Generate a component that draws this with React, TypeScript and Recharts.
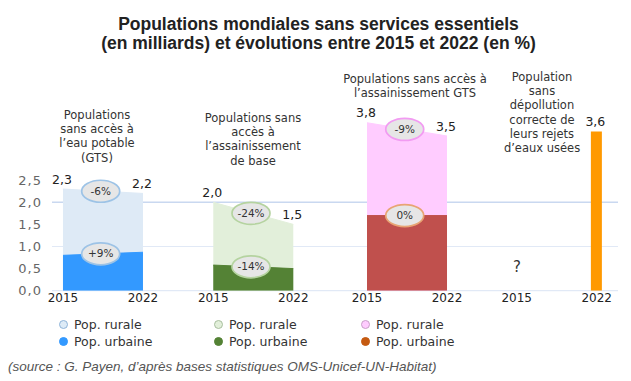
import React from 'react';
import { ComposedChart, Area, Bar, Scatter, XAxis, YAxis, CartesianGrid, LabelList } from 'recharts';

// ---- Data ----
const years = ['2015', '2022'];
const panelTitles = [
  ['Populations', 'sans accès à', 'l\u2019eau potable', '(GTS)'],
  ['Populations sans', 'accès à', 'l\u2019assainissement', 'de base'],
  ['Populations sans accès à', 'l\u2019assainissement GTS'],
  ['Population', 'sans', 'dépollution', 'correcte de', 'leurs rejets', 'd\u2019eaux usées'],
];
const waterUrban = [0.8, 0.87];
const waterTotal = [2.3, 2.2];
const sanitUrban = [0.58, 0.5];
const sanitTotal = [2.0, 1.5];
const gtsUrban = [1.7, 1.7];
const gtsTotal = [3.8, 3.5];
const wastewaterTotal: (number | null)[] = [null, 3.6];
const changeRural = ['-6%', '-24%', '-9%'];
const changeUrban = ['+9%', '-14%', '0%'];
const legendLabels = ['Pop. rurale', 'Pop. urbaine'];
const yTicks = [0, 0.5, 1, 1.5, 2, 2.5];
const sourceText = '(source : G. Payen, d\u2019après bases statistiques OMS-Unicef-UN-Habitat)';

// ---- Layout / styles ----
const panelOffsets = [0, 13.15, 26.6, 39.7];
const badgeShift = 3.3;
const ruralColors = ['#deeaf6', '#e2efda', '#ffccff'];
const urbanColors = ['#3399ff', '#548235', '#c0504d'];
const wasteColor = '#ff9900';
const ruralBadgeStroke = ['#9dc3e6', '#b5d3a0', '#f29bf2'];
const urbanBadgeStroke = ['#9dc3e6', '#b5d3a0', '#e8a474'];
const legendRuralFill = ['#ddebf7', '#e2efda', '#ffccff'];
const legendRuralStroke = ['#8fb4d9', '#a9bf9f', '#c9a0c9'];
const legendUrbanFill = ['#3399ff', '#548235', '#c55a11'];
const legendX = [64, 219, 366];
const titleCenters = [97, 253, 415, 542];
const titleTops = [108, 111, 72, 70];
const FONT = '"DejaVu Sans", Verdana, sans-serif';

const panels = [
  { urban: waterUrban, total: waterTotal },
  { urban: sanitUrban, total: sanitTotal },
  { urban: gtsUrban, total: gtsTotal },
  { urban: null as number[] | null, total: wastewaterTotal },
];

const baseYear = Number(years[0]);
const rows: any[] = [];
const tickYear: Record<string, string> = {};
panels.forEach((p, k) => {
  years.forEach((y, j) => {
    const x = +(panelOffsets[k] + (Number(y) - baseYear)).toFixed(3);
    const row: any = { x };
    row[`t${k}`] = p.total[j];
    if (p.urban) row[`u${k}`] = p.urban[j];
    rows.push(row);
    tickYear[String(x)] = y;
  });
});
const xTicks = rows.map((r) => r.x);

const badges: any[] = [];
[0, 1, 2].forEach((k) => {
  const p = panels[k];
  const mean = (a: any[]) => (a[0] + a[1]) / 2;
  badges.push({ x: panelOffsets[k] + badgeShift, y: mean(p.total as number[]), label: changeRural[k], stroke: ruralBadgeStroke[k] });
  badges.push({ x: panelOffsets[k] + badgeShift, y: mean(p.urban as number[]), label: changeUrban[k], stroke: urbanBadgeStroke[k] });
});

const fmt = (v: number) => v.toFixed(1).replace('.', ',');

const ValueLabel = (props: any) => {
  const { x, y, value, width } = props;
  if (value == null || x == null || y == null) return null;
  const cx = x + (width ? width / 2 : 0) - 1;
  return (
    <text x={cx} y={y - 9} textAnchor="middle" dominantBaseline="middle" fontFamily={FONT} fontSize={12.5} fill="#222">
      {fmt(Number(value))}
    </text>
  );
};

const Badge = (props: any) => {
  const { cx, cy, payload } = props;
  if (cx == null || cy == null) return null;
  return (
    <g>
      <ellipse cx={cx} cy={cy} rx={19} ry={11} fill="#e6e6e6" stroke={payload.stroke} strokeWidth={1.7} />
      <text x={cx} y={cy + 0.5} textAnchor="middle" dominantBaseline="middle" fontFamily={FONT} fontSize={10.5} fill="#333">
        {payload.label}
      </text>
    </g>
  );
};

export default function App() {
  return (
    <div style={{ position: 'absolute', left: 0, top: 0, width: 631, height: 381, background: '#fff', overflow: 'hidden' }}>
      <div
        style={{
          position: 'absolute', left: 3, top: 15, width: 631, textAlign: 'center',
          fontFamily: '"Liberation Sans", Arial, sans-serif', fontWeight: 'bold', fontSize: 17.5, lineHeight: '18.5px', color: '#222',
        }}
      >
        <div>Populations mondiales sans services essentiels</div>
        <div>(en milliards) et évolutions entre 2015 et 2022 (en %)</div>
      </div>
      <ComposedChart
        width={631}
        height={381}
        data={rows}
        margin={{ top: 113.9, right: 13, bottom: 60.3, left: 0 }}
        style={{ position: 'absolute', left: 0, top: 0 }}
      >
        <CartesianGrid vertical={false} horizontalValues={[0, 1]} stroke="#e1e9f6" strokeWidth={1.2} />
        <CartesianGrid vertical={false} horizontalValues={[2]} stroke="#c9d8f0" strokeWidth={1.4} />
        <XAxis
          dataKey="x"
          type="number"
          domain={[-0.96, 48.56]}
          ticks={xTicks}
          allowDataOverflow
          axisLine={false}
          tickLine={false}
          tickSize={0}
          tickMargin={3}
          height={30}
          interval={0}
          tickFormatter={(v: number) => tickYear[String(v)] ?? ''}
          tick={{ fontFamily: FONT, fontSize: 12, fill: '#222' }}
        />
        <YAxis
          type="number"
          domain={[0, 4]}
          ticks={yTicks}
          allowDataOverflow
          axisLine={false}
          tickLine={false}
          tickSize={0}
          tickMargin={10}
          width={52}
          tickFormatter={(v: number) => fmt(v)}
          tick={{ fontFamily: FONT, fontSize: 13, fill: '#666', letterSpacing: 1 }}
        />
        {[0, 1, 2].map((k) => (
          <Area
            key={`t${k}`}
            type="linear"
            dataKey={`t${k}`}
            fill={ruralColors[k]}
            fillOpacity={1}
            stroke={ruralColors[k]}
            strokeWidth={1}
            connectNulls={false}
            isAnimationActive={false}
            dot={false}
            activeDot={false}
          >
            <LabelList dataKey={`t${k}`} content={ValueLabel} />
          </Area>
        ))}
        {[0, 1, 2].map((k) => (
          <Area
            key={`u${k}`}
            type="linear"
            dataKey={`u${k}`}
            fill={urbanColors[k]}
            fillOpacity={1}
            stroke={urbanColors[k]}
            strokeWidth={1}
            connectNulls={false}
            isAnimationActive={false}
            dot={false}
            activeDot={false}
          />
        ))}
        <Bar dataKey="t3" fill={wasteColor} barSize={11} isAnimationActive={false}>
          <LabelList dataKey="t3" content={ValueLabel} />
        </Bar>
        <Scatter data={badges} dataKey="y" shape={Badge} isAnimationActive={false} />
      </ComposedChart>

      {panelTitles.map((lines, k) => (
        <div
          key={k}
          style={{
            position: 'absolute', left: titleCenters[k] - 80, top: titleTops[k], width: 160, textAlign: 'center',
            fontFamily: FONT, fontSize: 11.5, lineHeight: '14.2px', color: '#333',
          }}
        >
          {lines.map((l, i) => <div key={i}>{l}</div>)}
        </div>
      ))}

      <div style={{ position: 'absolute', left: 513, top: 258, fontFamily: FONT, fontSize: 15, color: '#333' }}>?</div>

      {legendX.map((lx, k) => (
        <div key={k} style={{ position: 'absolute', left: lx - 5, top: 316, fontFamily: FONT, fontSize: 12.5, color: '#333', lineHeight: '17px' }}>
          {legendLabels.map((lab, i) => (
            <div key={i} style={{ display: 'flex', alignItems: 'center' }}>
              <span
                style={{
                  display: 'inline-block', width: 9, height: 9, borderRadius: '50%', boxSizing: 'border-box',
                  background: i === 0 ? legendRuralFill[k] : legendUrbanFill[k],
                  border: `1px solid ${i === 0 ? legendRuralStroke[k] : legendUrbanFill[k]}`,
                  marginRight: 6,
                }}
              />
              <span>{lab}</span>
            </div>
          ))}
        </div>
      ))}

      <div
        style={{
          position: 'absolute', left: 8, top: 359, fontFamily: '"Liberation Sans", Arial, sans-serif', fontStyle: 'italic',
          fontSize: 13.5, color: '#555', whiteSpace: 'nowrap',
        }}
      >
        {sourceText}
      </div>
    </div>
  );
}
